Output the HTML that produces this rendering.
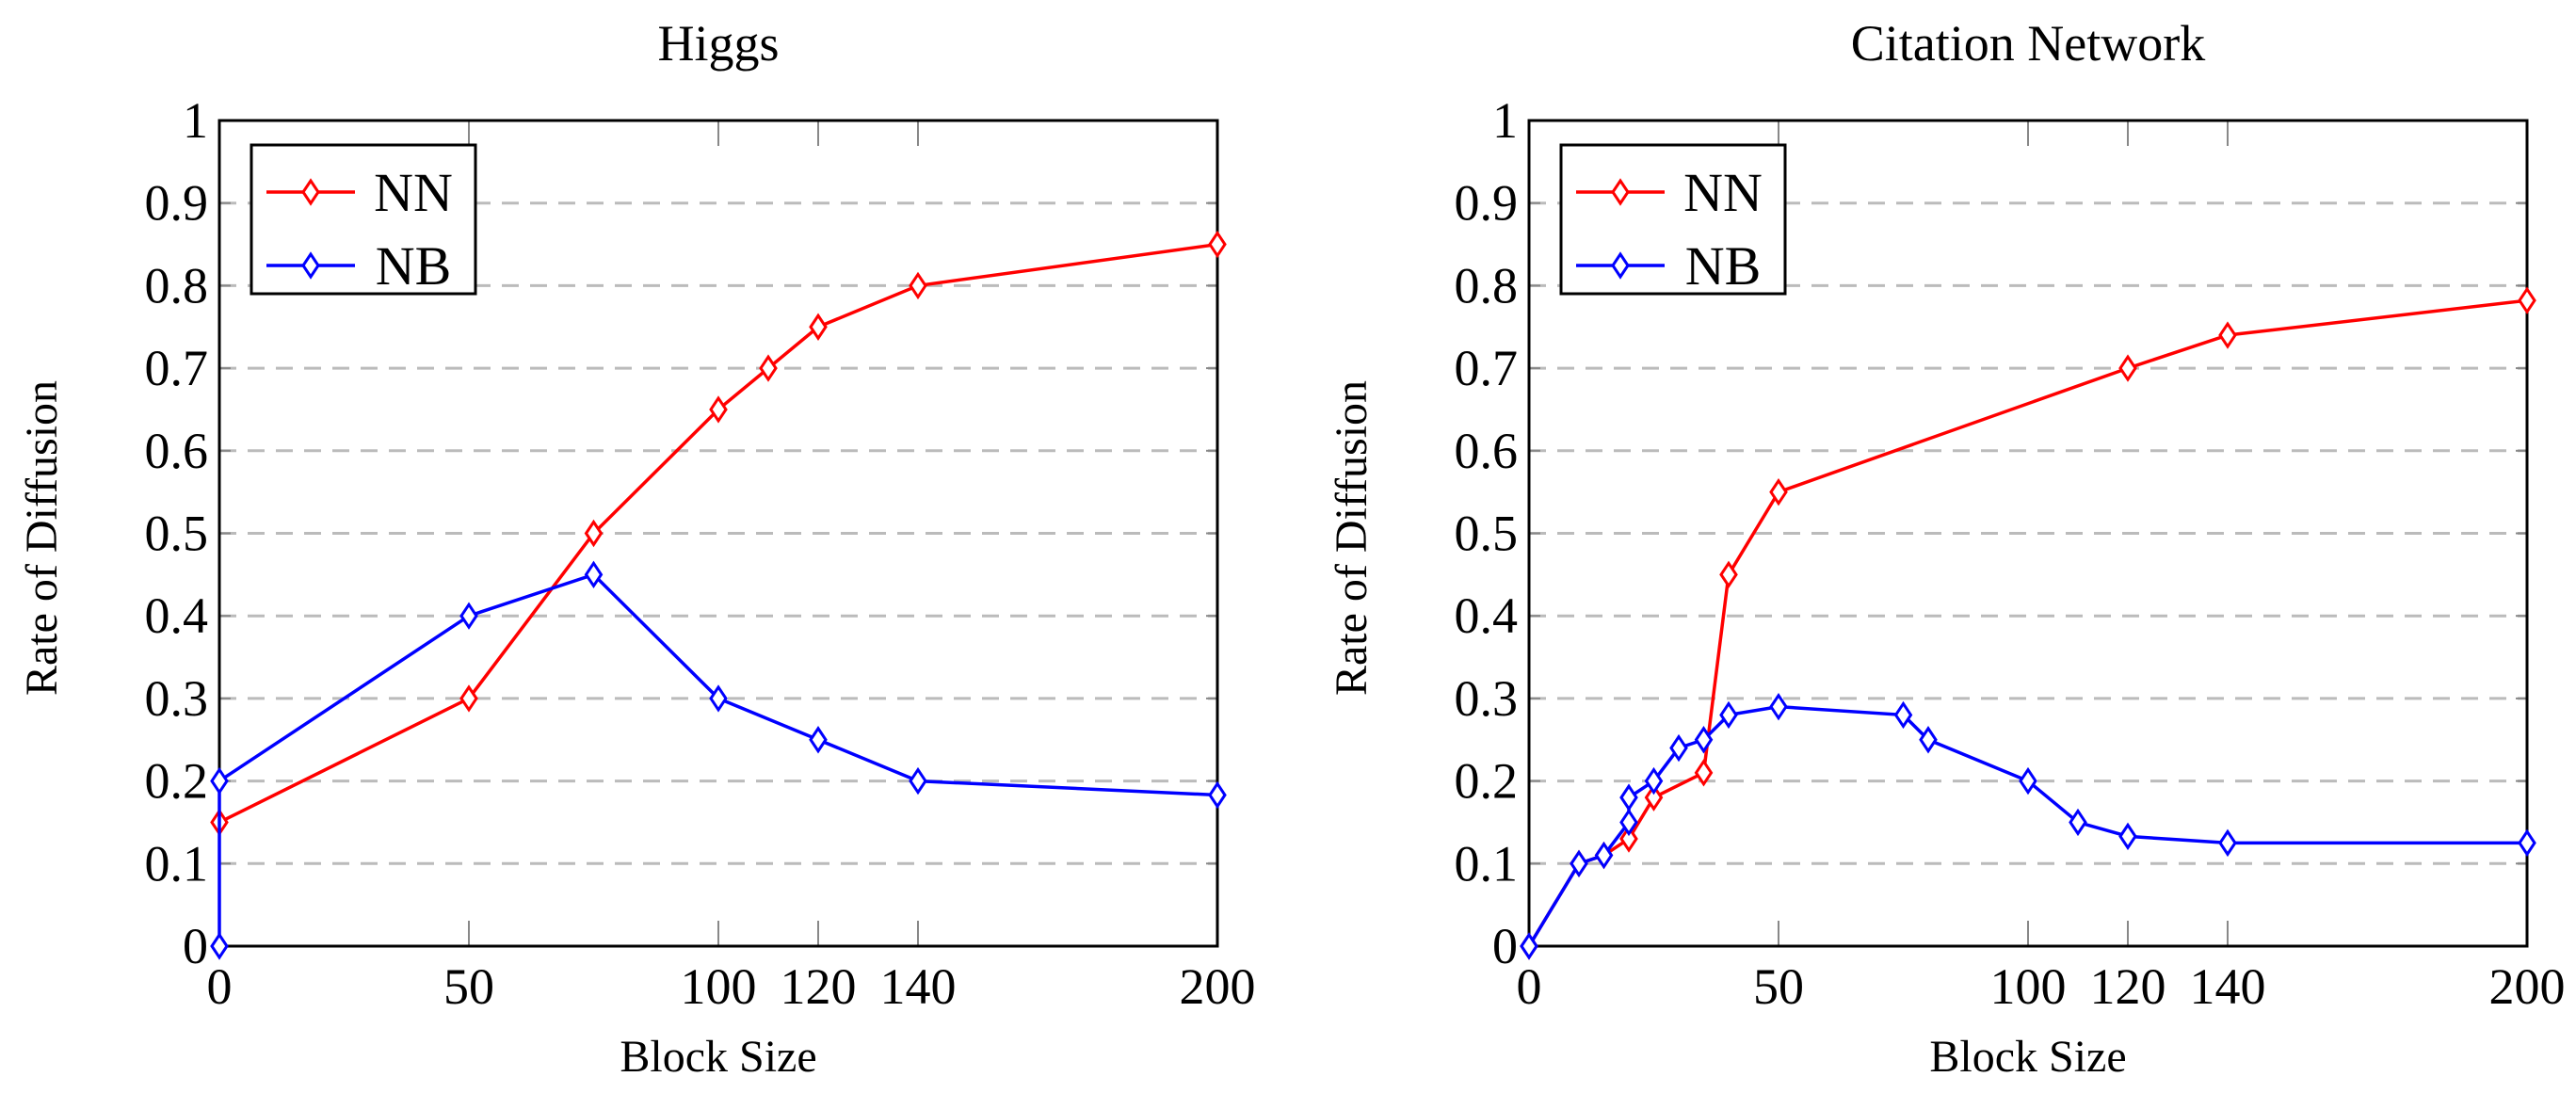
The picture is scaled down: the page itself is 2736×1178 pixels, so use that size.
<!DOCTYPE html>
<html><head><meta charset="utf-8"><style>
body{margin:0;background:#fff}
svg text{font-family:"Liberation Serif",serif;fill:#000}
</style></head><body>
<svg id="c" width="2736" height="1173" xmlns="http://www.w3.org/2000/svg"></svg>
<script>
const xTicks=[0,50,100,120,140,200];
const yTicks=[0,0.1,0.2,0.3,0.4,0.5,0.6,0.7,0.8,0.9,1];
const yTickLabels=["0","0.1","0.2","0.3","0.4","0.5","0.6","0.7","0.8","0.9","1"];
const higgsNNx=[0,50,75,100,110,120,140,200];
const higgsNNy=[0.15,0.3,0.5,0.65,0.7,0.75,0.8,0.85];
const higgsNBx=[0,0,50,75,100,120,140,200];
const higgsNBy=[0,0.2,0.4,0.45,0.3,0.25,0.2,0.183];
const citNNx=[0,10,15,20,25,35,40,50,120,140,200];
const citNNy=[0,0.1,0.11,0.13,0.18,0.21,0.45,0.55,0.7,0.74,0.782];
const citNBx=[0,10,15,20,20,25,30,35,40,50,75,80,100,110,120,140,200];
const citNBy=[0,0.1,0.11,0.15,0.18,0.2,0.24,0.25,0.28,0.29,0.28,0.25,0.2,0.15,0.133,0.125,0.125];
const titles=["Higgs","Citation Network"];
const legendNames=["NN","NB"];

const NS="http://www.w3.org/2000/svg";
const svg=document.getElementById('c');
function mk(t,a,p){const e=document.createElementNS(NS,t);for(const k in a)e.setAttribute(k,a[k]);(p||svg).appendChild(e);return e;}

function panel(L,R,title,nnx,nny,nbx,nby,ytitleX,slug){
  const T=128,B=1005;
  const g=mk('g',{});
  
  
  const sx=v=>L+(v/200)*(R-L), sy=v=>B-v*(B-T);
  yTicks.forEach((v,i)=>{
    if(v>0&&v<1){const l=mk('line',{x1:L,x2:R,y1:sy(v),y2:sy(v),stroke:'#bbb','stroke-width':3,'stroke-dasharray':'18,12'},g);
    }
    mk('line',{x1:L,x2:L+12,y1:sy(v),y2:sy(v),stroke:'#888','stroke-width':2},g);
    mk('line',{x1:R-12,x2:R,y1:sy(v),y2:sy(v),stroke:'#888','stroke-width':2},g);
    const t=mk('text',{x:L-12,y:sy(v)+18,'text-anchor':'end','font-size':54},g);
    t.textContent=yTickLabels[i];
    
  });
  xTicks.forEach(v=>{
    mk('line',{x1:sx(v),x2:sx(v),y1:T,y2:T+27,stroke:'#888','stroke-width':2},g);
    mk('line',{x1:sx(v),x2:sx(v),y1:B-27,y2:B,stroke:'#888','stroke-width':2},g);
    const t=mk('text',{x:sx(v),y:1066,'text-anchor':'middle','font-size':54},g);
    t.textContent=v;
    
  });
  const fr=mk('rect',{x:L,y:T,width:R-L,height:B-T,fill:'none',stroke:'#000','stroke-width':3},g);
  
  const tt=mk('text',{x:(L+R)/2,y:64,'text-anchor':'middle','font-size':54},g);
  tt.textContent=title;
  const xt=mk('text',{x:(L+R)/2,y:1138,'text-anchor':'middle','font-size':48},g);
  xt.textContent='Block Size';
  const yt=mk('text',{x:0,y:0,'text-anchor':'middle','font-size':48,transform:`translate(${ytitleX},${(T+B)/2+5}) rotate(-90)`},g);
  yt.textContent='Rate of Diffusion';
  function series(xs,ys,col,name){
    const pts=xs.map((x,i)=>sx(x)+','+sy(ys[i])).join(' ');
    const pl=mk('polyline',{points:pts,fill:'none',stroke:col,'stroke-width':3.5},g);
    
    xs.forEach((x,i)=>{
      const cx=sx(x),cy=sy(ys[i]);
      const m=mk('polygon',{points:`${cx},${cy-12} ${cx+8},${cy} ${cx},${cy+12} ${cx-8},${cy}`,fill:'#fff',stroke:col,'stroke-width':3},g);
      
    });
  }
  series(nnx,nny,'#f00','nn');
  series(nbx,nby,'#00f','nb');
  const lg=mk('g',{},g);
  
  const lx=L+34,ly=154;
  mk('rect',{x:lx,y:ly,width:238,height:158,fill:'#fff',stroke:'#000','stroke-width':3},lg);
  [['#f00',0],['#00f',1]].forEach(([col,i])=>{
    const y=ly+50+i*78;
    const e=mk('g',{},lg);
    
    mk('line',{x1:lx+16,x2:lx+110,y1:y,y2:y,stroke:col,'stroke-width':3.5},e);
    const c=lx+63;
    mk('polygon',{points:`${c},${y-12} ${c+8},${y} ${c},${y+12} ${c-8},${y}`,fill:'#fff',stroke:col,'stroke-width':3},e);
    const t=mk('text',{x:lx+172,y:y+20,'text-anchor':'middle','font-size':58},e);
    t.textContent=legendNames[i];
  });
}
panel(233,1293,titles[0],higgsNNx,higgsNNy,higgsNBx,higgsNBy,60,'higgs');
panel(1624,2684,titles[1],citNNx,citNNy,citNBx,citNBy,1451,'citation');
</script>
</body></html>
